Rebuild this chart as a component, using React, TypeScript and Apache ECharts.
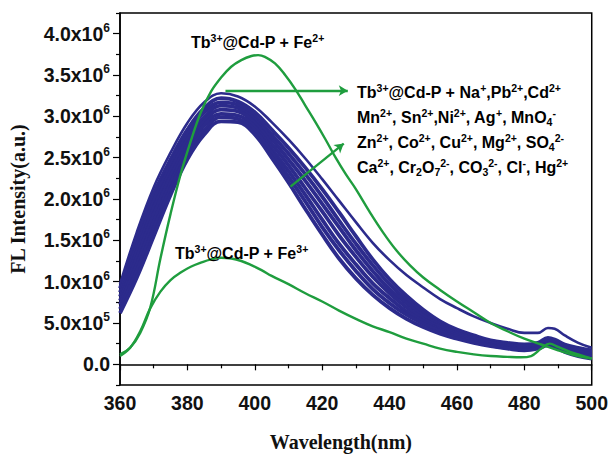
import React, { useEffect, useRef } from 'react';
import * as echarts from 'echarts';

// ---------- data (intensity in units of 10^6 a.u.) ----------
const blueX = [360, 365, 370, 375, 380, 385, 390, 395, 400, 405, 410, 415, 420, 425, 430, 435, 440, 445, 450, 455, 460, 465, 470, 475, 480, 484, 487, 489, 492, 496, 500];
const blueS = [0.97, 1.6, 2.14, 2.56, 2.92, 3.17, 3.28, 3.24, 3.12, 2.93, 2.72, 2.49, 2.24, 1.98, 1.72, 1.47, 1.26, 1.08, 0.93, 0.79, 0.68, 0.58, 0.5, 0.43, 0.38, 0.38, 0.44, 0.43, 0.35, 0.26, 0.2];
const blueA = [0.92, 1.52, 2.06, 2.48, 2.84, 3.1, 3.22, 3.18, 3.05, 2.84, 2.62, 2.38, 2.12, 1.84, 1.55, 1.27, 1.03, 0.83, 0.66, 0.52, 0.42, 0.35, 0.29, 0.26, 0.24, 0.26, 0.32, 0.3, 0.24, 0.2, 0.17];
const blueB = [0.87, 1.44, 1.97, 2.41, 2.78, 3.05, 3.17, 3.14, 3.0, 2.78, 2.55, 2.3, 2.03, 1.74, 1.46, 1.2, 0.97, 0.78, 0.62, 0.49, 0.4, 0.33, 0.28, 0.25, 0.23, 0.25, 0.3, 0.28, 0.22, 0.18, 0.15];
const blueC = [0.82, 1.36, 1.89, 2.34, 2.72, 2.99, 3.13, 3.1, 2.96, 2.73, 2.48, 2.22, 1.94, 1.66, 1.38, 1.13, 0.91, 0.74, 0.59, 0.47, 0.38, 0.32, 0.27, 0.24, 0.22, 0.24, 0.29, 0.27, 0.21, 0.17, 0.14];
const blueD = [0.77, 1.29, 1.81, 2.27, 2.66, 2.94, 3.08, 3.06, 2.92, 2.67, 2.41, 2.13, 1.85, 1.56, 1.3, 1.06, 0.86, 0.69, 0.55, 0.45, 0.37, 0.31, 0.26, 0.23, 0.21, 0.23, 0.28, 0.26, 0.2, 0.15, 0.12];
const blueE = [0.72, 1.21, 1.72, 2.19, 2.6, 2.89, 3.03, 3.01, 2.87, 2.61, 2.34, 2.05, 1.75, 1.46, 1.21, 0.98, 0.8, 0.64, 0.52, 0.42, 0.35, 0.29, 0.24, 0.21, 0.19, 0.21, 0.26, 0.24, 0.18, 0.13, 0.1];
const blueF = [0.67, 1.13, 1.64, 2.12, 2.54, 2.83, 2.99, 2.97, 2.83, 2.56, 2.27, 1.97, 1.66, 1.38, 1.13, 0.91, 0.74, 0.6, 0.49, 0.4, 0.33, 0.28, 0.23, 0.2, 0.18, 0.2, 0.25, 0.23, 0.17, 0.12, 0.09];
const blueG = [0.62, 1.05, 1.55, 2.05, 2.48, 2.78, 2.94, 2.93, 2.78, 2.5, 2.2, 1.88, 1.57, 1.28, 1.04, 0.84, 0.68, 0.55, 0.45, 0.37, 0.31, 0.26, 0.22, 0.19, 0.17, 0.19, 0.23, 0.21, 0.15, 0.1, 0.07];
const blueSeries = [blueS, blueA, blueB, blueC, blueD, blueE, blueF, blueG];

const fe2X = [360, 363, 366, 369, 372, 375, 378, 381, 384, 387, 390, 393, 396, 399, 401, 403, 406, 409, 412, 415, 418, 421, 424, 427, 430, 434, 438, 442, 446, 450, 455, 460, 465, 470, 475, 480, 485, 490, 495, 500];
const fe2Y = [0.12, 0.2, 0.38, 0.69, 1.28, 1.82, 2.3, 2.7, 3.05, 3.3, 3.47, 3.6, 3.68, 3.73, 3.74, 3.72, 3.64, 3.5, 3.33, 3.13, 2.93, 2.72, 2.5, 2.3, 2.12, 1.85, 1.6, 1.38, 1.2, 1.05, 0.9, 0.76, 0.63, 0.5, 0.4, 0.31, 0.24, 0.17, 0.11, 0.07];

const fe3X = [360, 363, 366, 369, 372, 375, 378, 381, 384, 387, 390, 393, 396, 399, 402, 405, 410, 415, 420, 425, 430, 435, 440, 445, 450, 455, 460, 465, 470, 475, 479, 482, 485, 487.5, 490, 493, 496, 500];
const fe3Y = [0.1, 0.2, 0.4, 0.68, 0.88, 1.02, 1.11, 1.18, 1.23, 1.27, 1.29, 1.28, 1.25, 1.2, 1.14, 1.07, 0.97, 0.86, 0.76, 0.65, 0.55, 0.46, 0.39, 0.31, 0.25, 0.19, 0.15, 0.12, 0.1, 0.09, 0.085, 0.1, 0.19, 0.25, 0.21, 0.16, 0.12, 0.07];

// axis ticks
const xTicks = [360, 380, 400, 420, 440, 460, 480, 500];
const yTickValues = [0, 0.5, 1, 1.5, 2, 2.5, 3, 3.5, 4];
const yTickMantissa = ['0.0', '5.0', '1.0', '1.5', '2.0', '2.5', '3.0', '3.5', '4.0'];
const yTickExponent = ['', '5', '6', '6', '6', '6', '6', '6', '6'];
const yMinorTicks = [-0.25, 0.25, 0.75, 1.25, 1.75, 2.25, 2.75, 3.25, 3.75, 4.25];

// annotation arrows (wavelength, intensity)
const arrowHoriz = [[391.3, 3.31], [427.6, 3.31]];
const arrowDiag = [[410.6, 2.15], [426.4, 2.67]];

const BLUE = '#2c2b8c';
const GREEN = '#1f9d3e';
const SANS = "'Liberation Sans', Arial, sans-serif";
const SERIF = "'Liberation Serif', 'Times New Roman', serif";

const annRich = {
  t: { fontSize: 16, fontWeight: 'bold', fontFamily: SANS, color: '#111', lineHeight: 20 },
  p: { fontSize: 10.5, fontWeight: 'bold', fontFamily: SANS, color: '#111', lineHeight: 10, verticalAlign: 'top' },
  d: { fontSize: 10.5, fontWeight: 'bold', fontFamily: SANS, color: '#111', lineHeight: 8, verticalAlign: 'bottom' },
};

const annotations = [
  { x: 191, y: 42, text: '{t|Tb}{p|3+}{t|@Cd-P + Fe}{p|2+}' },
  { x: 357, y: 92, text: '{t|Tb}{p|3+}{t|@Cd-P + Na}{p|+}{t|,Pb}{p|2+}{t|,Cd}{p|2+}' },
  { x: 357, y: 117, text: '{t|Mn}{p|2+}{t|, Sn}{p|2+}{t|,Ni}{p|2+}{t|, Ag}{p|+}{t|, MnO}{d|4}{p|-}' },
  { x: 357, y: 142, text: '{t|Zn}{p|2+}{t|, Co}{p|2+}{t|, Cu}{p|2+}{t|, Mg}{p|2+}{t|, SO}{d|4}{p|2-}' },
  { x: 357, y: 167, text: '{t|Ca}{p|2+}{t|, Cr}{d|2}{t|O}{d|7}{p|2-}{t|, CO}{d|3}{p|2-}{t|, Cl}{p|-}{t|, Hg}{p|2+}' },
  { x: 175, y: 253, text: '{t|Tb}{p|3+}{t|@Cd-P + Fe}{p|3+}' },
];

export default function App() {
  const ref = useRef<HTMLDivElement>(null);
  useEffect(() => {
    if (!ref.current) return;
    const chart = echarts.init(ref.current, undefined, { renderer: 'svg' });
    const series: any[] = blueSeries.map((vals, k) => ({
      type: 'line',
      name: 'blue' + k,
      data: blueX.map((x, i) => [x, vals[i]]),
      showSymbol: false,
      smooth: 0.4,
      lineStyle: { color: BLUE, width: k === 0 ? 2.6 : 3.8 },
      itemStyle: { color: BLUE },
      z: 2,
    }));
    series.push({
      type: 'line',
      name: 'Fe2+',
      data: fe2X.map((x, i) => [x, fe2Y[i]]),
      showSymbol: false,
      smooth: 0.4,
      lineStyle: { color: GREEN, width: 2.4 },
      itemStyle: { color: GREEN },
      z: 3,
      markLine: {
        silent: true,
        symbol: ['none', 'arrow'],
        symbolSize: [8, 9],
        label: { show: false },
        lineStyle: { color: GREEN, width: 2.4, type: 'solid' },
        data: [
          [{ coord: arrowHoriz[0] }, { coord: arrowHoriz[1] }],
          [{ coord: arrowDiag[0] }, { coord: arrowDiag[1] }],
        ],
      },
    });
    series.push({
      type: 'line',
      name: 'Fe3+',
      data: fe3X.map((x, i) => [x, fe3Y[i]]),
      showSymbol: false,
      smooth: 0.4,
      lineStyle: { color: GREEN, width: 2.4 },
      itemStyle: { color: GREEN },
      z: 3,
    });

    chart.setOption({
      animation: false,
      grid: { left: 120, right: 19, top: 13, bottom: 61, show: true, borderColor: '#000', borderWidth: 1.5, backgroundColor: 'transparent' },
      xAxis: {
        type: 'value',
        min: 360,
        max: 500,
        interval: 20,
        name: 'Wavelength(nm)',
        nameLocation: 'middle',
        nameGap: 47,
        nameTextStyle: { fontFamily: SERIF, fontWeight: 'bold', fontSize: 20, color: '#111', padding: [0, 30, 0, 0] },
        axisLine: { lineStyle: { color: '#000', width: 1.5 } },
        axisTick: { length: 6, lineStyle: { color: '#000', width: 1.2 } },
        minorTick: { show: true, splitNumber: 2, length: 4, lineStyle: { color: '#000', width: 1.2 } },
        splitLine: { show: false },
        axisLabel: {
          margin: 8,
          fontFamily: SANS,
          fontWeight: 'bold',
          fontSize: 19.5,
          color: '#111',
          formatter: (v: number) => (xTicks.indexOf(v) >= 0 ? String(v) : ''),
        },
      },
      yAxis: [
        {
          type: 'value',
          min: -0.25,
          max: 4.25,
          name: 'FL Intensity(a.u.)',
          nameLocation: 'middle',
          nameGap: 92,
          nameTextStyle: { fontFamily: SERIF, fontWeight: 'bold', fontSize: 20, color: '#111' },
          axisLine: { show: true, lineStyle: { color: '#000', width: 1.5 } },
          axisTick: { show: true, length: 7, customValues: yTickValues, lineStyle: { color: '#000', width: 1.2 } },
          splitLine: { show: false },
          axisLabel: {
            margin: 10,
            customValues: yTickValues,
            formatter: (v: number) => {
              const i = yTickValues.indexOf(v);
              if (i < 0) return '';
              return yTickExponent[i] ? `{b|${yTickMantissa[i]}x10}{s|${yTickExponent[i]}}` : `{b|${yTickMantissa[i]}}`;
            },
            rich: {
              b: { fontFamily: SANS, fontWeight: 'bold', fontSize: 19.5, color: '#111', lineHeight: 24 },
              s: { fontFamily: SANS, fontWeight: 'bold', fontSize: 12, color: '#111', lineHeight: 12, verticalAlign: 'top' },
            },
          },
        },
        {
          type: 'value',
          min: -0.25,
          max: 4.25,
          position: 'left',
          axisLine: { show: false },
          axisTick: { show: true, length: 4, customValues: yMinorTicks, lineStyle: { color: '#000', width: 1.2 } },
          axisLabel: { show: false },
          splitLine: { show: false },
        },
      ],
      graphic: annotations.map((a) => ({
        type: 'text',
        x: a.x,
        y: a.y,
        z: 10,
        style: { text: a.text, rich: annRich, align: 'left', verticalAlign: 'middle' },
      })),
      series,
    });
    return () => chart.dispose();
  }, []);
  return <div ref={ref} style={{ position: 'absolute', left: 0, top: 0, width: 611, height: 457, background: '#fff' }} />;
}
